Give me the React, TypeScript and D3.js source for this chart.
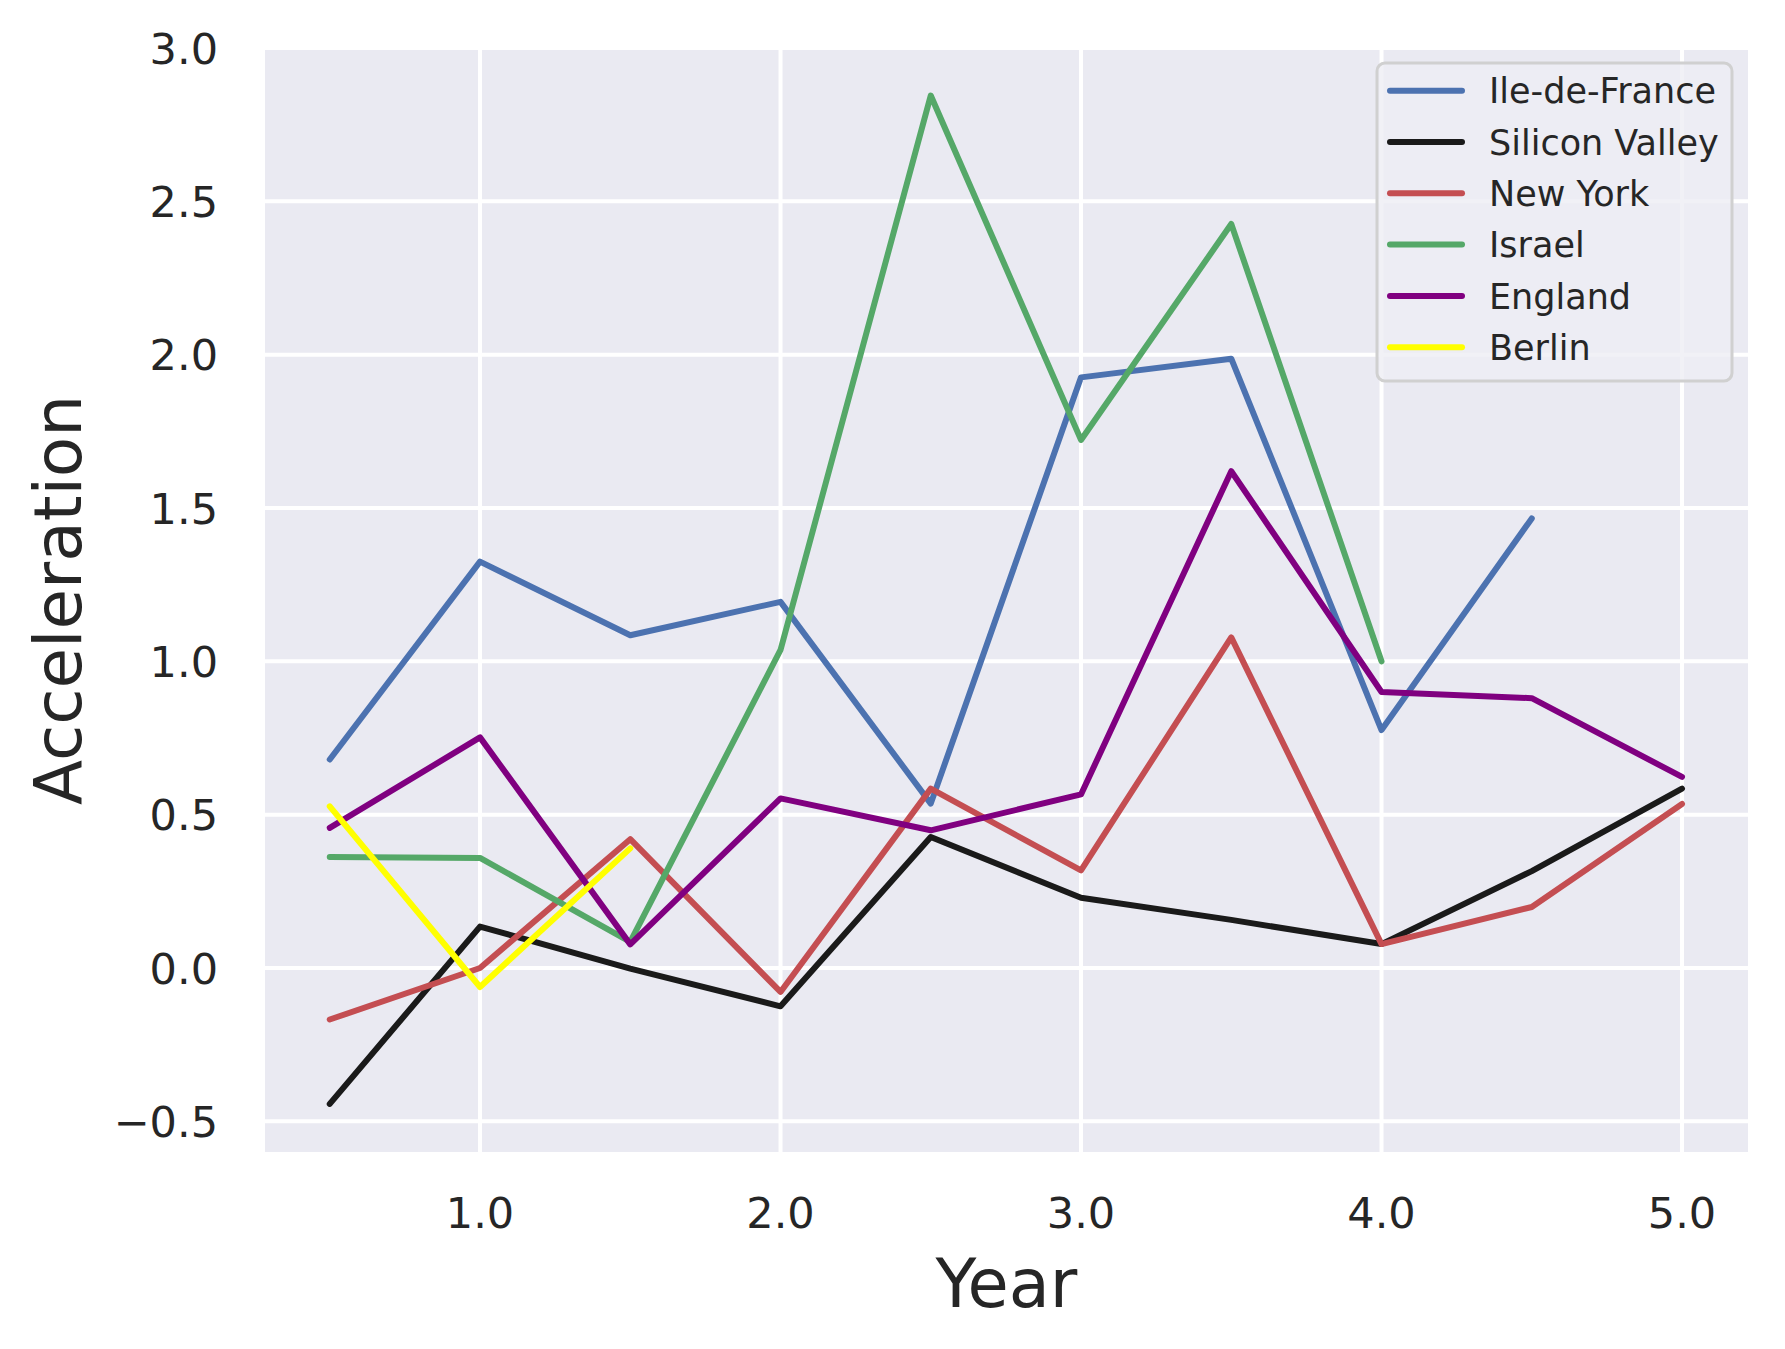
import React, { useEffect, useRef } from 'react';
import * as d3 from 'd3';

const years = [0.5, 1.0, 1.5, 2.0, 2.5, 3.0, 3.5, 4.0, 4.5, 5.0];

const ileDeFrance = [0.68, 1.325, 1.085, 1.194, 0.536, 1.926, 1.987, 0.776, 1.466, null];
const siliconValley = [-0.443, 0.135, -0.002, -0.125, 0.427, 0.229, 0.157, 0.078, 0.316, 0.585];
const newYork = [-0.168, 0.0, 0.42, -0.078, 0.585, 0.318, 1.078, 0.078, 0.199, 0.535];
const israel = [0.362, 0.359, 0.085, 1.037, 2.845, 1.722, 2.426, 1.0, null, null];
const england = [0.457, 0.752, 0.077, 0.553, 0.449, 0.566, 1.62, 0.9, 0.88, 0.623];
const berlin = [0.527, -0.062, 0.39, null, null, null, null, null, null, null];

const seriesNames = ['Ile-de-France', 'Silicon Valley', 'New York', 'Israel', 'England', 'Berlin'];
const seriesColors = ['#4C72B0', '#1A1A1A', '#C44E52', '#55A868', '#800080', '#FFFF00'];
const seriesValues = [ileDeFrance, siliconValley, newYork, israel, england, berlin];

const xTicks = [1.0, 2.0, 3.0, 4.0, 5.0];
const yTicks = [-0.5, 0.0, 0.5, 1.0, 1.5, 2.0, 2.5, 3.0];

const W = 1785;
const H = 1349;
const FONT = '"DejaVu Sans", sans-serif';

const App: React.FC = () => {
  const ref = useRef<SVGSVGElement | null>(null);

  useEffect(() => {
    document.body.style.margin = '0';
    if (!ref.current) return;

    const left = 265;
    const right = 1748;
    const top = 48;
    const bottom = 1152;

    const x = d3.scaleLinear().domain([0.2845, 5.2196]).range([left, right]);
    const y = d3.scaleLinear().domain([-0.6, 3.0]).range([bottom, top]);

    const svg = d3.select(ref.current).attr('width', W).attr('height', H).html('');

    svg.append('rect').attr('width', W).attr('height', H).attr('fill', '#ffffff');

    svg
      .append('rect')
      .attr('x', left)
      .attr('y', top)
      .attr('width', right - left)
      .attr('height', bottom - top)
      .attr('fill', '#EAEAF2');

    svg.append('clipPath').attr('id', 'plot-clip')
      .append('rect')
      .attr('x', left)
      .attr('y', top)
      .attr('width', right - left)
      .attr('height', bottom - top);

    // grid
    const grid = svg.append('g').attr('clip-path', 'url(#plot-clip)');
    grid
      .selectAll('.gx')
      .data(xTicks)
      .enter()
      .append('line')
      .attr('x1', (d) => x(d))
      .attr('x2', (d) => x(d))
      .attr('y1', top)
      .attr('y2', bottom)
      .attr('stroke', '#ffffff')
      .attr('stroke-width', 4);
    grid
      .selectAll('.gy')
      .data(yTicks)
      .enter()
      .append('line')
      .attr('x1', left)
      .attr('x2', right)
      .attr('y1', (d) => y(d))
      .attr('y2', (d) => y(d))
      .attr('stroke', '#ffffff')
      .attr('stroke-width', 4);

    // tick labels
    const fmt = (v: number) => d3.format('.1f')(v).replace('-', '\u2212');
    svg
      .selectAll('.xt')
      .data(xTicks)
      .enter()
      .append('text')
      .attr('x', (d) => x(d))
      .attr('y', bottom + 76)
      .attr('text-anchor', 'middle')
      .attr('font-family', FONT)
      .attr('font-size', 43)
      .attr('fill', '#262626')
      .text((d) => fmt(d));
    svg
      .selectAll('.yt')
      .data(yTicks)
      .enter()
      .append('text')
      .attr('x', 218)
      .attr('y', (d) => y(d) + 15.7)
      .attr('text-anchor', 'end')
      .attr('font-family', FONT)
      .attr('font-size', 43)
      .attr('fill', '#262626')
      .text((d) => fmt(d));

    // axis labels
    svg
      .append('text')
      .attr('x', (left + right) / 2)
      .attr('y', 1307)
      .attr('text-anchor', 'middle')
      .attr('font-family', FONT)
      .attr('font-size', 67)
      .attr('fill', '#262626')
      .text('Year');
    svg
      .append('text')
      .attr('transform', `translate(81, ${(top + bottom) / 2}) rotate(-90)`)
      .attr('text-anchor', 'middle')
      .attr('font-family', FONT)
      .attr('font-size', 66)
      .attr('fill', '#262626')
      .text('Acceleration');

    // lines
    const line = d3
      .line<number | null>()
      .defined((d) => d != null)
      .x((_, i) => x(years[i]))
      .y((d) => y(d as number));

    const plot = svg.append('g').attr('clip-path', 'url(#plot-clip)');
    seriesValues.forEach((vals, i) => {
      plot
        .append('path')
        .attr('d', line(vals)!)
        .attr('fill', 'none')
        .attr('stroke', seriesColors[i])
        .attr('stroke-width', 6)
        .attr('stroke-linecap', 'round')
        .attr('stroke-linejoin', 'round');
    });

    // legend
    const legend = svg.append('g');
    legend
      .append('rect')
      .attr('x', 1377)
      .attr('y', 63)
      .attr('width', 355)
      .attr('height', 318)
      .attr('rx', 8)
      .attr('fill', '#EDEDF4')
      .attr('fill-opacity', 0.8)
      .attr('stroke', '#D0D0D0')
      .attr('stroke-width', 3);

    const rows = legend
      .selectAll('.row')
      .data(seriesNames)
      .enter()
      .append('g')
      .attr('transform', (_, i) => `translate(0, ${90.7 + i * 51.3})`);
    rows
      .append('line')
      .attr('x1', 1390)
      .attr('x2', 1462)
      .attr('stroke', (_, i) => seriesColors[i])
      .attr('stroke-width', 6)
      .attr('stroke-linecap', 'round');
    rows
      .append('text')
      .attr('x', 1489)
      .attr('y', 12.7)
      .attr('font-family', FONT)
      .attr('font-size', 35)
      .attr('fill', '#262626')
      .text((d) => d);
  }, []);

  return <svg ref={ref} style={{ display: 'block' }}></svg>;
};

export default App;
